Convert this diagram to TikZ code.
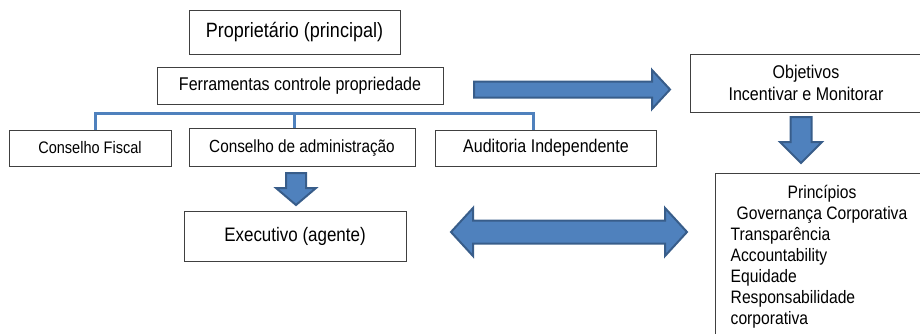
\documentclass[tikz,border=0pt]{standalone}
\usepackage{fontspec}
\setmainfont[FakeStretch=0.87]{Liberation Sans}

\definecolor{officeblue}{HTML}{4F81BD}
\definecolor{officeedge}{HTML}{385D8A}

\tikzset{
  box/.style={draw=black!75, line width=0.9pt, fill=white, inner sep=0pt, align=center},
  bus/.style={draw=officeblue, line width=3pt},
  fatarrow/.style={fill=officeblue, draw=officeedge, line width=2pt, line join=miter},
}

\begin{document}
\begin{tikzpicture}[x=1pt,y=-1pt]
  \useasboundingbox (0,0) rectangle (920,333);
  \clip (0,0) rectangle (920,333);
  \draw
    (294.5,32) node[box, minimum width=211pt, minimum height=44pt, font=\fontsize{20.7}{24}\selectfont] (prop) {Proprietário (principal)}
    (300,85.5) node[box, minimum width=286pt, minimum height=37pt, font=\fontsize{18.4}{22}\selectfont] (ferr) {Ferramentas controle propriedade}
    (90,148) node[box, minimum width=162pt, minimum height=36pt, font=\fontsize{16.7}{21}\selectfont] (fiscal) {Conselho Fiscal}
    (302,147.5) node[box, minimum width=226pt, minimum height=38pt, font=\fontsize{17.6}{21}\selectfont] (admin) {Conselho de administração}
    (546,148) node[box, minimum width=221pt, minimum height=36pt, font=\fontsize{18.4}{21}\selectfont] (audit) {Auditoria Independente}
    (295,236) node[box, minimum width=222pt, minimum height=50pt, font=\fontsize{19.5}{23}\selectfont] (exec) {Executivo (agente)}
    (806,83) node[box, minimum width=232pt, minimum height=58pt, font=\fontsize{18.4}{22}\selectfont] (obj) {Objetivos\\Incentivar e Monitorar}
    (822,173) node[box, anchor=north, minimum width=214pt, minimum height=200pt] (princ) {};
  \node[inner sep=0pt, anchor=north, font=\fontsize{18}{21}\selectfont] (princtxt) at (822,183.3)
    {\begin{tabular}{@{}l@{}}
      \multicolumn{1}{c}{Princípios}\\
      \multicolumn{1}{c}{Governança Corporativa}\\
      Transparência\\
      Accountability\\
      Equidade\\
      Responsabilidade\\
      corporativa
    \end{tabular}};
  % barra azul
  \coordinate (busL) at (95,113);
  \coordinate (busM) at (294,113);
  \coordinate (busR) at (533,113);
  \draw[bus] (fiscal.north -| busL) -- (busL) -- (busR) -- (audit.north -| busR);
  \draw[bus] (busM) -- (admin.north -| busM);
  % setas
  \draw[fatarrow] (474,81.5) -- (652,81.5) -- (652,70) -- (670,89.5) -- (652,109) -- (652,97.5) -- (474,97.5) -- cycle;
  \draw[fatarrow] (790.5,117) -- (811.5,117) -- (811.5,142) -- (822,142) -- (801,163) -- (780,142) -- (790.5,142) -- cycle;
  \draw[fatarrow] (286,173) -- (306,173) -- (306,188) -- (316,188) -- (296,205) -- (276,188) -- (286,188) -- cycle;
  \draw[fatarrow] (451,232) -- (473,208) -- (473,220.5) -- (665,220.5) -- (665,208) -- (687,232) -- (665,256) -- (665,243.5) -- (473,243.5) -- (473,256) -- cycle;
\end{tikzpicture}
\end{document}
